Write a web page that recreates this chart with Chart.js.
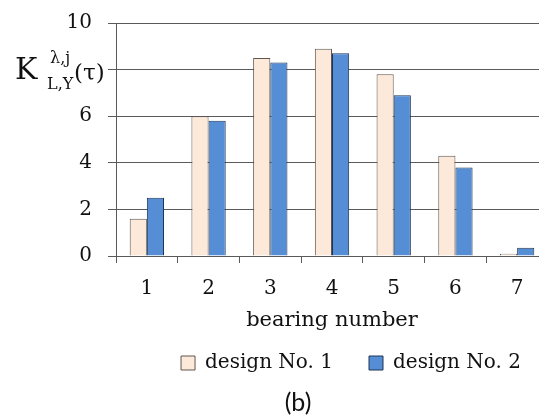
<!DOCTYPE html>
<html>
<head>
<meta charset="utf-8">
<script src="https://cdn.jsdelivr.net/npm/chart.js@4.4.1/dist/chart.umd.min.js"></script>
<style>
  html, body { margin: 0; padding: 0; background: #fff; overflow: hidden; }
  #wrap { width: 548px; height: 417px; }
</style>
</head>
<body>
<div id="wrap"><canvas id="c" width="548" height="417"></canvas></div>
<script>
// bearing numbers along the x axis
const bearings = ['1', '2', '3', '4', '5', '6', '7'];
// coefficient values for the two designs
const design1 = [1.6, 6.0, 8.5, 8.9, 7.8, 4.3, 0.1];
const design2 = [2.5, 5.8, 8.3, 8.7, 6.9, 3.8, 0.35];
const seriesNames = ['design No. 1', 'design No. 2'];
const yTicks = [0, 2, 4, 6, 8, 10];

const SERIF = "'DejaVu Serif', 'Liberation Serif', serif";
const GRID = '#5a5a5a';

// axis title K^{λ,j}_{L,Y}(τ) and the panel caption
const annotations = {
  id: 'annotations',
  afterLayout(chart) {
    // legend sits a little right of the plot centre and close under the axis title
    const lg = chart.legend;
    lg.left += 19; lg.right += 19;
    lg.top -= 16; lg.bottom -= 16;
  },
  afterDraw(chart) {
    const ctx = chart.ctx;
    ctx.save();
    ctx.fillStyle = '#111';
    ctx.textBaseline = 'alphabetic';
    ctx.textAlign = 'left';
    ctx.font = '30px ' + SERIF;
    ctx.fillText('K', 15, 79);
    ctx.font = '16px ' + SERIF;
    ctx.fillText('λ,j', 50, 63);
    ctx.fillText('L,Y', 47, 89);
    ctx.font = '23px ' + SERIF;
    ctx.fillText('(τ)', 74, 80);
    ctx.font = "25px 'Lato', 'Open Sans', sans-serif";
    ctx.textAlign = 'center';
    ctx.fillText('(b)', 298, 411);
    ctx.restore();
  }
};

new Chart(document.getElementById('c'), {
  type: 'bar',
  data: {
    labels: bearings,
    datasets: [
      {
        label: seriesNames[0],
        data: design1,
        backgroundColor: '#fde9d9',
        borderColor: '#5e5650',
        borderWidth: 1,
        barPercentage: 1,
        categoryPercentage: 0.556
      },
      {
        label: seriesNames[1],
        data: design2,
        backgroundColor: '#558ed5',
        borderColor: '#1f3455',
        borderWidth: 1,
        barPercentage: 1,
        categoryPercentage: 0.556
      }
    ]
  },
  options: {
    responsive: false,
    animation: false,
    devicePixelRatio: 1,
    layout: { padding: { top: 23, right: 0, left: 0, bottom: 18 } },
    plugins: {
      legend: {
        position: 'bottom',
        fullSize: false,
        labels: {
          boxWidth: 14,
          boxHeight: 14,
          color: '#111',
          padding: 36,
          font: { family: SERIF, size: 20 }
        }
      },
      tooltip: { enabled: false }
    },
    scales: {
      x: {
        afterFit(scale) { scale.height = 77; },
        grid: {
          offset: true,
          drawOnChartArea: false,
          drawTicks: true,
          tickLength: 7,
          color: GRID
        },
        border: { display: true, color: GRID, width: 1 },
        ticks: {
          color: '#111',
          padding: 14,
          font: { family: SERIF, size: 20 }
        },
        title: {
          display: true,
          text: 'bearing number',
          color: '#111',
          padding: { top: 0, bottom: 0 },
          font: { family: SERIF, size: 21 }
        }
      },
      y: {
        min: 0,
        max: 10,
        afterBuildTicks(scale) {
          scale.ticks = yTicks.map(v => ({ value: v }));
        },
        afterFit(scale) {
          scale.width = 116;
          scale.paddingTop = 0;
          scale.paddingBottom = 0;
        },
        grid: {
          color: GRID,
          lineWidth: 1,
          tickLength: 8
        },
        border: { display: true, color: GRID, width: 1 },
        ticks: {
          color: '#111',
          padding: 16,
          font: { family: SERIF, size: 20 },
          callback: v => (v === 8 ? '' : String(v))
        }
      }
    }
  },
  plugins: [annotations]
});
</script>
</body>
</html>
